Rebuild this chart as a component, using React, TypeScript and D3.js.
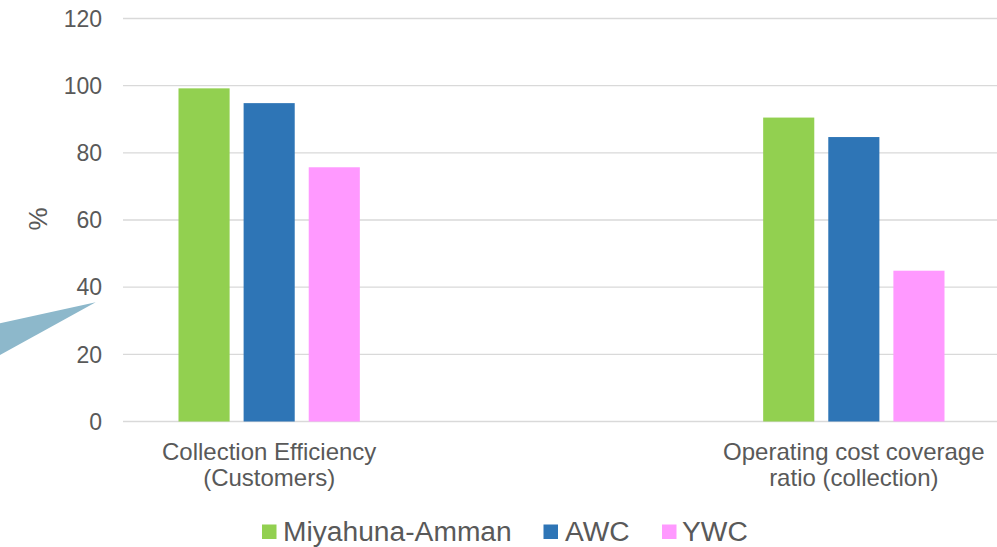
import React from "react";
import * as d3 from "d3";

const categories = ["cat1", "cat2", "cat3"];
const categoryLabels: string[][] = [
  ["Collection Efficiency", "(Customers)"],
  [],
  ["Operating cost coverage", "ratio (collection)"],
];
const seriesNames = ["Miyahuna-Amman", "AWC", "YWC"];
const seriesColors = ["#92D050", "#2E75B6", "#FF99FF"];
const miyahunaValues = [99.2, null, 90.5];
const awcValues = [94.8, null, 84.7];
const ywcValues = [75.7, null, 44.9];
const yTicks = [0, 20, 40, 60, 80, 100, 120];

const W = 997;
const H = 547;
const FONT = "'Liberation Sans', Arial, Helvetica, sans-serif";
const TEXT = "#595959";

export default function App() {
  const series = [miyahunaValues, awcValues, ywcValues];
  const x = d3.scaleBand<string>().domain(categories).range([123, 1000]);
  const bw = x.bandwidth();
  const inner = d3
    .scaleBand<string>()
    .domain(seriesNames)
    .range([55.5, bw - 55.5])
    .paddingInner(0.215)
    .paddingOuter(0);
  const y = d3.scaleLinear().domain([0, 120]).range([421.5, 18.5]);

  const legendX = [262, 543.5, 662];
  const legendTextX = [283, 565, 682];

  return (
    <svg
      width={W}
      height={H}
      style={{ position: "absolute", left: 0, top: 0, background: "#fff" }}
      fontFamily={FONT}
    >
      <rect x={0} y={0} width={W} height={H} fill="#fff" />
      {/* callout pointer */}
      <polygon points="95.7,302.3 -2,323.6 -2,356" fill="#8DB8CB" />
      {/* gridlines */}
      {yTicks.map((t) => (
        <line
          key={t}
          x1={123}
          x2={1000}
          y1={y(t)}
          y2={y(t)}
          stroke="#D9D9D9"
          strokeWidth={1.3}
        />
      ))}
      {/* y tick labels */}
      {yTicks.map((t) => (
        <text
          key={"t" + t}
          x={102}
          y={y(t)}
          dy="0.36em"
          textAnchor="end"
          fontSize={23}
          fill={TEXT}
        >
          {t}
        </text>
      ))}
      <text
        transform={`translate(46.5,219) rotate(-90)`}
        textAnchor="middle"
        fontSize={26}
        fill={TEXT}
      >
        %
      </text>
      {/* bars */}
      {categories.map((c, ci) =>
        series.map((s, si) => {
          const v = s[ci];
          if (v == null) return null;
          return (
            <rect
              key={c + si}
              x={(x(c) as number) + (inner(seriesNames[si]) as number)}
              y={y(v)}
              width={inner.bandwidth()}
              height={y(0) - y(v)}
              fill={seriesColors[si]}
            />
          );
        })
      )}
      {/* x labels */}
      {categories.map((c, ci) => (
        <text
          key={"l" + c}
          textAnchor="middle"
          fontSize={24}
          fill={TEXT}
        >
          {categoryLabels[ci].map((line, li) => (
            <tspan key={li} x={(x(c) as number) + bw / 2} y={460 + li * 25.5}>
              {line}
            </tspan>
          ))}
        </text>
      ))}
      {/* legend */}
      {seriesNames.map((n, i) => (
        <g key={n}>
          <rect
            x={legendX[i]}
            y={524.5}
            width={14.5}
            height={14.5}
            fill={seriesColors[i]}
          />
          <text x={legendTextX[i]} y={541} fontSize={28.2} fill={TEXT}>
            {n}
          </text>
        </g>
      ))}
    </svg>
  );
}
